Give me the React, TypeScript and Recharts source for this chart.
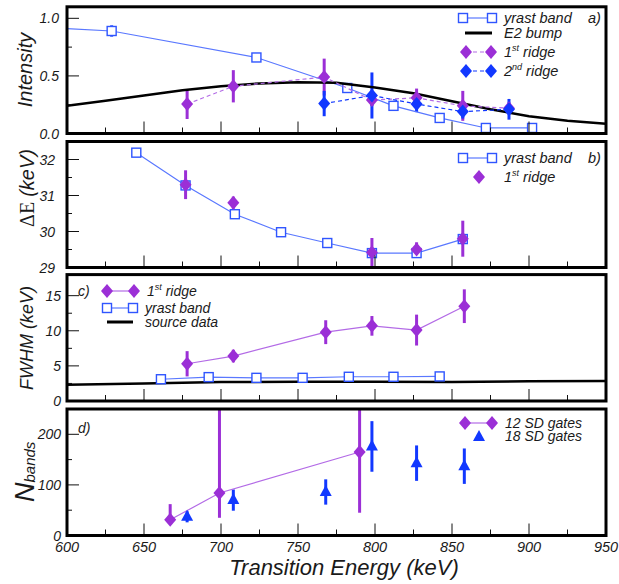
import React from 'react';
import { ComposedChart, Scatter, XAxis, YAxis, ErrorBar, Legend } from 'recharts';

const W = 619;
const H = 584;
const PLOT_L = 67;
const PLOT_R = 606;
const FONT = '"Liberation Sans", Arial, sans-serif';
const SERIF = '"Liberation Serif", "Times New Roman", serif';
const INK = '#1a1a1a';
const PURPLE = '#9b2fd6';
const PURPLE_LINE = '#b36be6';
const BLUE = '#1238ff';
const SQ_BLUE = '#2f55ff';
const YRAST_LINE = '#5a78ff';

const xTicks = [600, 625, 650, 675, 700, 725, 750, 775, 800, 825, 850, 875, 900, 925, 950];

// a) intensity
const aYrastE = [585, 629, 723, 782, 812, 842, 872, 902];
const aYrastI = [0.92, 0.89, 0.66, 0.395, 0.24, 0.135, 0.048, 0.048];
const aYrastErr = [0, 0.05, 0, 0, 0, 0, 0, 0];
const aBumpE = [600, 625, 650, 675, 700, 725, 750, 775, 800, 825, 850, 875, 900, 925, 950];
const aBumpI = [0.24, 0.285, 0.33, 0.375, 0.41, 0.435, 0.445, 0.44, 0.4, 0.35, 0.28, 0.21, 0.15, 0.11, 0.085];
const aRidge1E = [678, 708, 767, 798, 827, 857, 887];
const aRidge1I = [0.256, 0.41, 0.49, 0.29, 0.31, 0.24, 0.22];
const aRidge1Err = [0.13, 0.14, 0.16, 0.05, 0.08, 0.13, 0.05];
const aRidge2E = [767, 798, 827, 857, 887];
const aRidge2I = [0.26, 0.33, 0.256, 0.19, 0.21];
const aRidge2Err = [0.11, 0.2, 0.07, 0.06, 0.09];

// b) delta E
const bYrastE = [645, 677, 709, 739, 769, 798, 827, 857];
const bYrastD = [32.19, 31.28, 30.48, 29.98, 29.68, 29.4, 29.4, 29.79];
const bRidgeE = [677, 708, 798, 827, 857];
const bRidgeD = [31.3, 30.8, 29.42, 29.5, 29.8];
const bRidgeErr: [number, number][] = [[0.4, 0.4], [0.17, 0.17], [0.42, 0.4], [0.2, 0.2], [0.5, 0.5]];

// c) FWHM
const cRidgeE = [678, 708, 768, 798, 827, 858];
const cRidgeW = [5.3, 6.4, 9.8, 10.7, 10.1, 13.5];
const cRidgeErr = [1.8, 0.9, 1.7, 1.4, 2.2, 2.4];
const cYrastE = [661, 692, 723, 753, 783, 812, 842];
const cYrastW = [3.1, 3.4, 3.3, 3.3, 3.45, 3.45, 3.5];
const cSourceE = [600, 650, 700, 750, 800, 850, 900, 950];
const cSourceW = [2.3, 2.5, 2.7, 2.75, 2.75, 2.7, 2.8, 2.85];

// d) N bands (upper bars run off the top of the frame)
const d12E = [667, 699, 790];
const d12N = [31, 84, 165];
const d12Err: [number, number][] = [[0, 31], [49, 166], [120, 85]];
const d18E = [678, 708, 768, 798, 827, 858];
const d18N = [37, 70, 86, 176, 143, 137];
const d18Err = [11, 21, 25, 50, 35, 35];

const mk = (xs: number[], ys: number[], errs?: any[]) =>
  xs.map((x, i) => ({ x, y: ys[i], err: errs ? errs[i] : 0 }));

const Square = (p: any) => (
  <rect x={p.cx - 4.5} y={p.cy - 4.5} width={9} height={9} fill="#fff" stroke={SQ_BLUE} strokeWidth={1.4} />
);
const diamond = (color: string) => (p: any) => (
  <polygon points={`${p.cx},${p.cy - 7} ${p.cx + 6},${p.cy} ${p.cx},${p.cy + 7} ${p.cx - 6},${p.cy}`} fill={color} />
);
const Triangle = (p: any) => (
  <polygon points={`${p.cx},${p.cy - 7} ${p.cx + 6},${p.cy + 4} ${p.cx - 6},${p.cy + 4}`} fill={BLUE} />
);
const NoDot = () => <g />;

const txt = { fontFamily: FONT, fontStyle: 'italic' as const, fill: INK };

const yTick = (labels: Record<string, string>, right: number) => (p: any) => {
  const v = p.payload.value;
  const lab = labels[String(v)];
  return (
    <g>
      <line x1={PLOT_L} x2={PLOT_L + (lab !== undefined ? 12 : 5)} y1={p.y} y2={p.y} stroke="#111" strokeWidth={1} />
      {lab !== undefined && (
        <text x={right} y={p.y + 5} textAnchor="end" fontSize={14} {...txt}>{lab}</text>
      )}
    </g>
  );
};

const xTick = (bottom: number, showLabel: boolean) => (p: any) => {
  const v = p.payload.value;
  const major = v % 50 === 0;
  return (
    <g>
      <line x1={p.x} x2={p.x} y1={bottom} y2={bottom - (major ? 12 : 6)} stroke="#111" strokeWidth={1} />
      {showLabel && major && (
        <text x={p.x} y={552} textAnchor="middle" fontSize={14.5} {...txt}>{v}</text>
      )}
    </g>
  );
};

const Sup = ({ n, s }: { n: string; s: string }) => (
  <>
    {n}
    <tspan fontSize={9} dy={-6}>{s}</tspan>
    <tspan dy={6}> ridge</tspan>
  </>
);

const legendSvg = (top: number, bottom: number, children: React.ReactNode) => () => (
  <svg width={W} height={H} style={{ position: 'absolute', left: 0, top: 0 }}>
    <rect x={PLOT_L} y={top} width={PLOT_R - PLOT_L} height={bottom - top} fill="none" stroke="#000" strokeWidth={3} />
    {children}
  </svg>
);

const sqPair = (x1: number, x2: number, y: number) => (
  <g>
    <line x1={x1} x2={x2} y1={y} y2={y} stroke={YRAST_LINE} strokeWidth={1.2} />
    <Square cx={x1} cy={y} />
    <Square cx={x2} cy={y} />
  </g>
);
const diaPair = (x1: number, x2: number, y: number, color: string, lineColor: string, dash?: string) => {
  const D = diamond(color);
  return (
    <g>
      <line x1={x1} x2={x2} y1={y} y2={y} stroke={lineColor} strokeWidth={1.2} strokeDasharray={dash} />
      <D cx={x1} cy={y} />
      <D cx={x2} cy={y} />
    </g>
  );
};

const DiaP = diamond(PURPLE);

const legendA = legendSvg(6.8, 133.5,
  <g fontSize={14.5} {...txt}>
    {sqPair(463, 492, 18)}
    <text x={504} y={23}>yrast band</text>
    <text x={588} y={23}>a)</text>
    <line x1={465} x2={492} y1={33} y2={33} stroke="#000" strokeWidth={3} />
    <text x={504} y={38}>E2 bump</text>
    {diaPair(466, 491, 52, PURPLE, PURPLE_LINE, '4 3')}
    <text x={504} y={57}><Sup n="1" s="st" /></text>
    {diaPair(466, 491, 71, BLUE, BLUE, '4 3')}
    <text x={504} y={76}><Sup n="2" s="nd" /></text>
  </g>
);

const legendB = legendSvg(141.5, 267.5,
  <g fontSize={14.5} {...txt}>
    {sqPair(463, 492, 158)}
    <text x={504} y={163}>yrast band</text>
    <text x={588} y={163}>b)</text>
    <DiaP cx={479} cy={177} />
    <text x={504} y={182}><Sup n="1" s="st" /></text>
  </g>
);

const legendC = legendSvg(274.6, 401,
  <g fontSize={14} {...txt}>
    <text x={78} y={296}>c)</text>
    {diaPair(107, 134, 291, PURPLE, PURPLE_LINE)}
    <text x={147} y={296}><Sup n="1" s="st" /></text>
    {sqPair(107, 133, 308)}
    <text x={145} y={313}>yrast band</text>
    <line x1={107} x2={133} y1={322} y2={322} stroke="#000" strokeWidth={3} />
    <text x={145} y={327}>source data</text>
  </g>
);

const legendD = legendSvg(409, 535.5,
  <g fontSize={14} {...txt}>
    <text x={78} y={433}>d)</text>
    {diaPair(465, 492, 423, PURPLE, PURPLE_LINE)}
    <text x={505} y={428}>12 SD gates</text>
    <polygon points="479,430 485,441 473,441" fill={BLUE} />
    <text x={505} y={441}>18 SD gates</text>
  </g>
);

type PanelProps = {
  top: number;
  bottom: number;
  domain: [number, number];
  ticks: number[];
  labels: Record<string, string>;
  labelRight: number;
  title: () => React.ReactElement;
  legend: () => React.ReactElement;
  xLabels?: boolean;
  children: React.ReactNode;
};

const Panel = ({ top, bottom, domain, ticks, labels, labelRight, title, legend, xLabels, children }: PanelProps) => {
  const axisH = xLabels ? 40 : 1;
  return (
    <div style={{ position: 'absolute', left: 0, top: 0 }}>
      <ComposedChart width={W} height={H} margin={{ top, bottom: H - bottom - axisH, left: 0, right: W - PLOT_R }}>
        <XAxis
          type="number"
          dataKey="x"
          domain={[600, 950]}
          allowDataOverflow
          ticks={xTicks}
          interval={0}
          height={axisH}
          tickLine={false}
          axisLine={false}
          tick={xTick(bottom, !!xLabels)}
          label={
            xLabels
              ? {
                  content: () => (
                    <text x={344} y={575} textAnchor="middle" fontSize={22} {...txt}>Transition Energy (keV)</text>
                  ),
                }
              : undefined
          }
        />
        <YAxis
          type="number"
          dataKey="y"
          domain={domain}
          allowDataOverflow
          ticks={ticks}
          interval={0}
          width={PLOT_L}
          tickLine={false}
          axisLine={false}
          tick={yTick(labels, labelRight)}
          label={{ content: title }}
        />
        {children}
        <Legend layout="horizontal" verticalAlign="middle" align="center" content={legend}
          wrapperStyle={{ left: 0, top: 0, width: W, height: H, pointerEvents: 'none' }} />
      </ComposedChart>
    </div>
  );
};

const eb = (color: string) => (
  <ErrorBar dataKey="err" direction="y" width={0} stroke={color} strokeWidth={3} isAnimationActive={false} />
);

export default function App() {
  return (
    <div style={{ position: 'absolute', left: 0, top: 0, width: W, height: H, background: '#fff' }}>
      {/* a) */}
      <Panel
        top={6.8}
        bottom={133.5}
        domain={[0, 1.1]}
        ticks={[0, 0.25, 0.5, 0.75, 1]}
        labels={{ '0': '0.0', '0.5': '0.5', '1': '1.0' }}
        labelRight={59}
        title={() => (
          <text transform="translate(32,70) rotate(-90)" textAnchor="middle" fontSize={20} {...txt}>Intensity</text>
        )}
        legend={legendA}
      >
        <Scatter data={mk(aYrastE, aYrastI, aYrastErr)} shape={Square} line={{ stroke: YRAST_LINE, strokeWidth: 1.2 }} lineType="joint" isAnimationActive={false}>
          {eb(SQ_BLUE)}
        </Scatter>
        <Scatter data={mk(aBumpE, aBumpI)} shape={NoDot} line={{ stroke: '#000', strokeWidth: 2.5 }} lineType="joint" isAnimationActive={false} />
        <Scatter data={mk(aRidge1E, aRidge1I, aRidge1Err)} shape={diamond(PURPLE)} line={{ stroke: PURPLE_LINE, strokeWidth: 1.2, strokeDasharray: '4 3' }} lineType="joint" isAnimationActive={false}>
          {eb(PURPLE)}
        </Scatter>
        <Scatter data={mk(aRidge2E, aRidge2I, aRidge2Err)} shape={diamond(BLUE)} line={{ stroke: BLUE, strokeWidth: 1.2, strokeDasharray: '4 3' }} lineType="joint" isAnimationActive={false}>
          {eb(BLUE)}
        </Scatter>
      </Panel>

      {/* b) */}
      <Panel
        top={141.5}
        bottom={267.5}
        domain={[29, 32.5]}
        ticks={[29, 29.5, 30, 30.5, 31, 31.5, 32]}
        labels={{ '29': '29', '30': '30', '31': '31', '32': '32' }}
        labelRight={55}
        title={() => (
          <text transform="translate(34,188) rotate(-90)" textAnchor="middle" fontSize={20} fill={INK}>
            <tspan fontFamily={SERIF}>ΔE </tspan>
            <tspan fontFamily={FONT} fontStyle="italic">(keV)</tspan>
          </text>
        )}
        legend={legendB}
      >
        <Scatter data={mk(bYrastE, bYrastD)} shape={Square} line={{ stroke: YRAST_LINE, strokeWidth: 1.2 }} lineType="joint" isAnimationActive={false} />
        <Scatter data={mk(bRidgeE, bRidgeD, bRidgeErr)} shape={diamond(PURPLE)} isAnimationActive={false}>
          {eb(PURPLE)}
        </Scatter>
      </Panel>

      {/* c) */}
      <Panel
        top={274.6}
        bottom={401}
        domain={[0, 18]}
        ticks={[0, 2.5, 5, 7.5, 10, 12.5, 15]}
        labels={{ '0': '0', '5': '5', '10': '10', '15': '15' }}
        labelRight={61}
        title={() => (
          <text transform="translate(33,338) rotate(-90)" textAnchor="middle" fontSize={18} {...txt}>FWHM (keV)</text>
        )}
        legend={legendC}
      >
        <Scatter data={mk(cSourceE, cSourceW)} shape={NoDot} line={{ stroke: '#000', strokeWidth: 2.5 }} lineType="joint" isAnimationActive={false} />
        <Scatter data={mk(cYrastE, cYrastW)} shape={Square} line={{ stroke: YRAST_LINE, strokeWidth: 1.2 }} lineType="joint" isAnimationActive={false} />
        <Scatter data={mk(cRidgeE, cRidgeW, cRidgeErr)} shape={diamond(PURPLE)} line={{ stroke: PURPLE_LINE, strokeWidth: 1.2 }} lineType="joint" isAnimationActive={false}>
          {eb(PURPLE)}
        </Scatter>
      </Panel>

      {/* d) */}
      <Panel
        top={409}
        bottom={535.5}
        domain={[0, 250]}
        ticks={[0, 50, 100, 150, 200]}
        labels={{ '0': '0', '100': '100', '200': '200' }}
        labelRight={61}
        title={() => (
          <text transform="translate(34,502) rotate(-90)" textAnchor="start" {...txt}>
            <tspan fontSize={27}>N</tspan>
            <tspan fontSize={15} dy={1}>bands</tspan>
          </text>
        )}
        legend={legendD}
        xLabels
      >
        <Scatter data={mk(d12E, d12N, d12Err)} shape={diamond(PURPLE)} line={{ stroke: PURPLE_LINE, strokeWidth: 1.2 }} lineType="joint" isAnimationActive={false}>
          {eb(PURPLE)}
        </Scatter>
        <Scatter data={mk(d18E, d18N, d18Err)} shape={Triangle} isAnimationActive={false}>
          {eb(BLUE)}
        </Scatter>
      </Panel>
    </div>
  );
}
